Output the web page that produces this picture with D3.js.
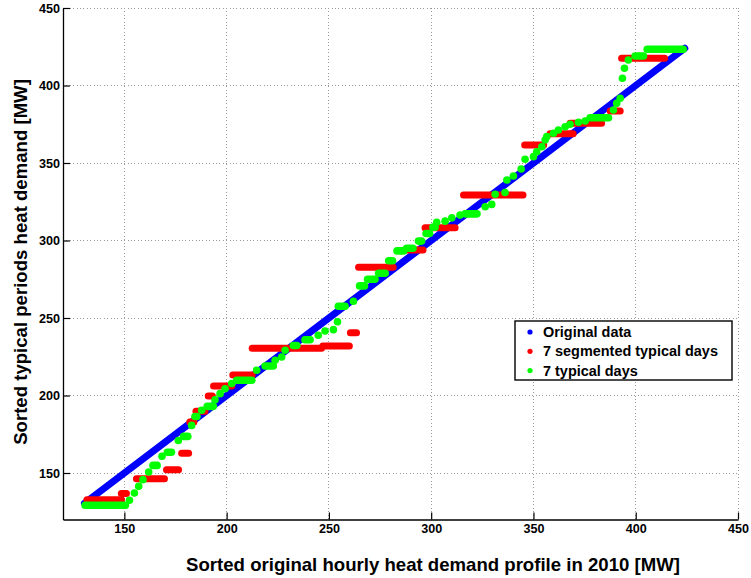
<!DOCTYPE html>
<html>
<head>
<meta charset="utf-8">
<script src="https://cdn.jsdelivr.net/npm/d3@7"></script>
<style>
  html, body { margin: 0; padding: 0; background: #fff; }
  svg text { font-family: "Liberation Sans", Arial, Helvetica, sans-serif; font-weight: bold; fill: #000; }
</style>
</head>
<body>
<svg id="chart" width="751" height="578"></svg>
<script>
// Axis ticks (MW)
const xTicks = [150, 200, 250, 300, 350, 400, 450];
const yTicks = [150, 200, 250, 300, 350, 400, 450];

// Sorted original hourly demand: lowest and highest hour (plotted against itself)
const originalRange = [130.5, 424];

// 7 segmented typical days: plateaus [from x, to x, typical value]
const segmentedDays = [
  [131.7, 148.6, 132.8], [148.5, 151, 136.8], [155.9, 169.6, 146.3],
  [170.6, 176.5, 152.1], [178, 181.4, 162.8], [182, 184, 182.9],
  [185, 189.4, 189.8], [191, 193, 199.7], [193.6, 202.5, 206.2],
  [203, 212.5, 213.3], [212.5, 246.4, 230.5], [247, 260, 232],
  [260.5, 263.5, 240.5], [264.5, 281.4, 282.8], [288.2, 296, 293.8],
  [297, 311.7, 308.2], [315.8, 344.9, 329.3], [345.7, 355, 361.6],
  [358.1, 369.4, 368.9], [367.9, 383.3, 375.6], [387.5, 392.4, 383.6],
  [393.1, 414.1, 417.6]
];

// 7 typical days: plateaus [from x, to x, typical value]
const typicalDays = [
  [130.8, 150.5, 129.2], [152.5, 152.5, 132.4], [154.9, 154.9, 137.1],
  [157, 157, 141.4], [159.1, 159.1, 145.7], [161.9, 161.9, 150.6],
  [164, 166, 154.9], [168.4, 168.4, 160.8], [171, 173, 163.4],
  [176.4, 176.4, 171], [179, 181, 173.6], [182.9, 182.9, 180.7],
  [184.5, 185.5, 186.5], [187.8, 187.8, 190.5], [190.5, 193.5, 193],
  [194.3, 194.3, 197.3], [196.8, 196.8, 201.2], [199.2, 199.2, 204.4],
  [202.5, 202.5, 207.7], [204.9, 212.3, 209.8], [214.7, 214.7, 216.3],
  [218.8, 222.8, 219], [223.7, 223.7, 222.7], [226.9, 226.9, 224.8],
  [228.6, 228.6, 229.2], [232.6, 234.3, 232.3], [238.3, 240.8, 236],
  [244.8, 244.8, 238.9], [248.1, 248.1, 241.6], [252.2, 252.2, 242.5],
  [254.2, 254.2, 247.6], [254.6, 257.9, 257.6], [262, 262, 260.8],
  [265, 267.4, 270.7], [268.9, 272.5, 275], [274.3, 277.5, 278.9],
  [279.2, 281.1, 286.9], [283.3, 286.5, 293.3], [288, 291.1, 295],
  [293.8, 295.3, 299.6], [297.5, 299.2, 304.5], [300.9, 301.9, 308.6],
  [302.7, 302.7, 311.7], [306.8, 306.8, 312.5], [310.1, 310.1, 314.6],
  [314.1, 314.1, 316.4], [316.6, 322.4, 317.2], [326.4, 326.4, 321.8],
  [329.6, 329.6, 323.3], [331.3, 331.3, 329.8], [336.1, 336.1, 331],
  [337, 337, 339], [340.2, 340.2, 341.6], [344, 344, 346.1],
  [345.9, 345.9, 352.4], [350, 350, 354.1], [351.6, 351.6, 357.3],
  [354.1, 354.1, 360.5], [355.7, 355.7, 364.8], [356.5, 356.5, 367],
  [359.8, 359.8, 369.2], [362.2, 362.2, 371.3], [365.5, 365.5, 373.4],
  [367.9, 367.9, 375], [372, 372, 376.3], [375.3, 375.3, 377.1],
  [377.7, 386.7, 379.2], [389.1, 389.1, 384.2], [390.7, 390.7, 388.5],
  [392.4, 392.4, 391.8], [393.5, 393.5, 404.7], [394.5, 394.5, 411.1],
  [396.4, 396.4, 416.5], [399.7, 403.8, 419], [405.6, 423.2, 423.4]
];

const legendItems = [
  { label: "Original data", color: "#0000ff" },
  { label: "7 segmented typical days", color: "#ff0000" },
  { label: "7 typical days", color: "#00ff00" }
];

const svg = d3.select("#chart");
const plot = { left: 63, right: 738, top: 8, bottom: 519.5 };

const x = d3.scaleLinear().domain([120, 450]).range([plot.left, plot.right]);
const y = d3.scaleLinear().domain([120, 450]).range([plot.bottom, plot.top]);

// dotted grid
const grid = svg.append("g").attr("class", "grid");
grid.selectAll("line.vx").data(xTicks).join("line")
  .attr("x1", d => x(d)).attr("x2", d => x(d))
  .attr("y1", plot.top).attr("y2", plot.bottom);
grid.selectAll("line.hy").data(yTicks).join("line")
  .attr("x1", plot.left).attr("x2", plot.right)
  .attr("y1", d => y(d)).attr("y2", d => y(d));
grid.selectAll("line")
  .attr("stroke", "#9a9a9a").attr("stroke-width", 1)
  .attr("stroke-dasharray", "1,2.4").attr("shape-rendering", "crispEdges");

// series
const marks = svg.append("g");

marks.append("line")
  .attr("x1", x(originalRange[0])).attr("y1", y(originalRange[0]))
  .attr("x2", x(originalRange[1])).attr("y2", y(originalRange[1]))
  .attr("stroke", "#0000ff").attr("stroke-width", 7).attr("stroke-linecap", "round");

marks.append("g").selectAll("line").data(segmentedDays).join("line")
  .attr("x1", d => x(d[0])).attr("x2", d => x(d[1]))
  .attr("y1", d => y(d[2])).attr("y2", d => y(d[2]))
  .attr("stroke", "#ff0000").attr("stroke-width", 7).attr("stroke-linecap", "round");

marks.append("g").selectAll("line").data(typicalDays).join("line")
  .attr("x1", d => x(d[0])).attr("x2", d => x(d[1]))
  .attr("y1", d => y(d[2])).attr("y2", d => y(d[2]))
  .attr("stroke", "#00ff00").attr("stroke-width", 7.6).attr("stroke-linecap", "round");

// axes (ticks pointing into the plot)
const xAxis = svg.append("g")
  .attr("transform", `translate(0,${plot.bottom})`)
  .call(d3.axisBottom(x).tickValues(xTicks).tickSizeInner(-7).tickSizeOuter(0).tickPadding(5));
const yAxis = svg.append("g")
  .attr("transform", `translate(${plot.left},0)`)
  .call(d3.axisLeft(y).tickValues(yTicks).tickSizeInner(-7).tickSizeOuter(0).tickPadding(3));

[xAxis, yAxis].forEach(a => {
  a.select(".domain").attr("stroke", "#000").attr("stroke-width", 1.3);
  a.selectAll(".tick line").attr("stroke", "#000").attr("stroke-width", 1.2);
  a.selectAll(".tick text").attr("font-family", null).attr("font-size", 12.6)
    .style("font-family", "'Liberation Sans', Arial, sans-serif").style("font-weight", "bold");
});

// axis titles, sized so the horizontal title spans its measured width
const xTitle = svg.append("text")
  .attr("x", 433).attr("y", 571)
  .attr("text-anchor", "middle").attr("font-size", 16)
  .text("Sorted original hourly heat demand profile in 2010 [MW]");
const titleSize = 16 * 494 / xTitle.node().getComputedTextLength();
xTitle.attr("font-size", titleSize);

svg.append("text")
  .attr("transform", "translate(27,262) rotate(-90)")
  .attr("text-anchor", "middle").attr("font-size", titleSize)
  .text("Sorted typical periods heat demand [MW]");

// legend
const lg = svg.append("g").attr("transform", "translate(515,321)");
lg.append("rect").attr("width", 217).attr("height", 59)
  .attr("fill", "#fff").attr("stroke", "#000").attr("stroke-width", 1.4);
const rows = lg.selectAll("g.row").data(legendItems).join("g")
  .attr("transform", (d, i) => `translate(0,${11 + i * 19.3})`);
rows.append("circle").attr("cx", 15).attr("cy", 0).attr("r", 2.6).attr("fill", d => d.color);
const labels = rows.append("text").attr("x", 28).attr("y", 5).attr("font-size", 14).text(d => d.label);
const widest = d3.max(labels.nodes(), n => n.getComputedTextLength());
labels.attr("font-size", 14 * 175 / widest);
</script>
</body>
</html>
